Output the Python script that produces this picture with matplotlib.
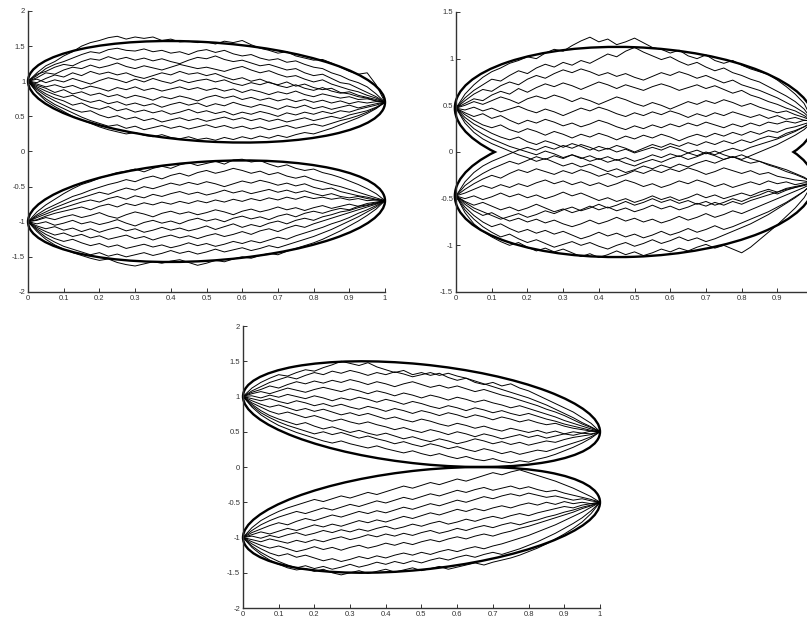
#!/usr/bin/env python3
"""
Brownian-bridge sample paths inside their confidence envelopes, three panels
(two on top, one centred below), MATLAB-style axes.
"""
import matplotlib
matplotlib.use("Agg")
import matplotlib.pyplot as plt
import numpy as np
from matplotlib.patches import Circle
from matplotlib.transforms import Affine2D

# sample times shared by every path
N_STEPS = 41

# envelope of each group: (start value, end value, width factor)
TL_ENVELOPES = [(1.0, 0.7, 1.414), (-1.0, -0.7, 1.414)]
TR_ENVELOPES = [(0.47, 0.33, 1.42), (-0.47, -0.33, 1.42)]
BOT_ENVELOPES = [(1.0, 0.5, 1.414), (-1.0, -0.5, 1.414)]

# y-axis ranges and ticks
TL_YLIM = (-2, 2)
TR_YLIM = (-1.5, 1.5)
BOT_YLIM = (-2, 2)
X_TICKS = [0, 0.1, 0.2, 0.3, 0.4, 0.5, 0.6, 0.7, 0.8, 0.9, 1]
X_TICKLABELS = ["0", "0.1", "0.2", "0.3", "0.4", "0.5", "0.6", "0.7", "0.8", "0.9", "1"]
# right panel is cut at the figure edge, its last tick is not shown
X_TICKS_CUT = [0, 0.1, 0.2, 0.3, 0.4, 0.5, 0.6, 0.7, 0.8, 0.9]
X_TICKLABELS_CUT = ["0", "0.1", "0.2", "0.3", "0.4", "0.5", "0.6", "0.7", "0.8", "0.9"]
Y_TICKS_2 = [-2, -1.5, -1, -0.5, 0, 0.5, 1, 1.5, 2]
Y_TICKLABELS_2 = ["-2", "-1.5", "-1", "-0.5", "0", "0.5", "1", "1.5", "2"]
Y_TICKS_15 = [-1.5, -1, -0.5, 0, 0.5, 1, 1.5]
Y_TICKLABELS_15 = ["-1.5", "-1", "-0.5", "0", "0.5", "1", "1.5"]

# ---- paths, top-left panel ----
TL_UPPER_PATHS = [
    [1.00, 1.12, 1.22, 1.28, 1.36, 1.42, 1.50, 1.55, 1.58, 1.62, 1.64, 1.60, 1.63, 1.61, 1.63, 1.58, 1.60, 1.56, 1.57, 1.55, 1.56, 1.53, 1.57, 1.55, 1.58, 1.52, 1.47, 1.44, 1.40, 1.42, 1.36, 1.33, 1.30, 1.31, 1.26, 1.20, 1.14, 1.10, 1.12, 0.95, 0.70],
    [1.00, 1.08, 1.18, 1.24, 1.28, 1.33, 1.38, 1.42, 1.40, 1.45, 1.47, 1.44, 1.43, 1.46, 1.42, 1.44, 1.40, 1.42, 1.38, 1.43, 1.45, 1.41, 1.44, 1.39, 1.36, 1.38, 1.33, 1.30, 1.32, 1.27, 1.29, 1.24, 1.20, 1.18, 1.12, 1.08, 1.02, 0.98, 0.92, 0.82, 0.70],
    [1.00, 1.10, 1.14, 1.20, 1.24, 1.22, 1.28, 1.32, 1.30, 1.35, 1.31, 1.34, 1.30, 1.33, 1.29, 1.32, 1.28, 1.25, 1.30, 1.34, 1.32, 1.36, 1.31, 1.28, 1.30, 1.26, 1.22, 1.24, 1.20, 1.16, 1.18, 1.12, 1.08, 1.10, 1.04, 0.98, 0.96, 0.90, 0.84, 0.78, 0.70],
    [1.00, 1.05, 1.12, 1.10, 1.16, 1.20, 1.18, 1.23, 1.19, 1.22, 1.26, 1.21, 1.18, 1.22, 1.19, 1.16, 1.20, 1.24, 1.21, 1.18, 1.20, 1.17, 1.14, 1.18, 1.21, 1.16, 1.12, 1.15, 1.10, 1.06, 1.08, 1.03, 0.99, 1.02, 0.96, 0.92, 0.88, 0.85, 0.80, 0.76, 0.70],
    [1.00, 0.98, 1.04, 1.09, 1.06, 1.12, 1.08, 1.14, 1.10, 1.13, 1.09, 1.12, 1.07, 1.04, 1.08, 1.12, 1.09, 1.14, 1.10, 1.12, 1.08, 1.11, 1.06, 1.02, 1.05, 1.00, 1.03, 0.98, 0.95, 0.99, 0.93, 0.96, 0.91, 0.88, 0.90, 0.84, 0.82, 0.78, 0.76, 0.72, 0.70],
    [1.00, 1.03, 0.98, 1.02, 0.99, 1.04, 1.00, 0.96, 1.01, 1.05, 1.02, 0.98, 1.03, 0.99, 1.04, 1.00, 0.97, 1.02, 0.98, 1.01, 1.03, 0.99, 1.02, 0.97, 0.94, 0.98, 0.95, 0.99, 0.94, 0.91, 0.95, 0.90, 0.87, 0.91, 0.86, 0.83, 0.85, 0.80, 0.77, 0.74, 0.70],
    [1.00, 0.96, 0.92, 0.95, 0.91, 0.94, 0.89, 0.93, 0.90, 0.86, 0.91, 0.88, 0.92, 0.87, 0.90, 0.86, 0.89, 0.92, 0.88, 0.91, 0.87, 0.90, 0.86, 0.89, 0.84, 0.88, 0.85, 0.81, 0.85, 0.82, 0.86, 0.81, 0.78, 0.82, 0.79, 0.76, 0.78, 0.74, 0.75, 0.72, 0.70],
    [1.00, 0.94, 0.90, 0.84, 0.88, 0.82, 0.85, 0.80, 0.83, 0.78, 0.81, 0.76, 0.80, 0.77, 0.73, 0.78, 0.75, 0.79, 0.76, 0.72, 0.77, 0.80, 0.76, 0.79, 0.74, 0.77, 0.73, 0.76, 0.72, 0.75, 0.71, 0.74, 0.70, 0.73, 0.69, 0.72, 0.68, 0.71, 0.69, 0.71, 0.70],
    [1.00, 0.92, 0.86, 0.81, 0.77, 0.80, 0.74, 0.70, 0.73, 0.68, 0.71, 0.66, 0.69, 0.65, 0.68, 0.63, 0.67, 0.70, 0.66, 0.69, 0.64, 0.68, 0.65, 0.70, 0.66, 0.63, 0.67, 0.64, 0.60, 0.65, 0.62, 0.66, 0.61, 0.64, 0.60, 0.63, 0.66, 0.62, 0.65, 0.68, 0.70],
    [1.00, 0.90, 0.82, 0.76, 0.72, 0.66, 0.69, 0.63, 0.60, 0.64, 0.58, 0.61, 0.56, 0.59, 0.55, 0.58, 0.53, 0.56, 0.60, 0.55, 0.58, 0.54, 0.57, 0.52, 0.56, 0.53, 0.57, 0.54, 0.50, 0.55, 0.52, 0.56, 0.53, 0.57, 0.54, 0.58, 0.56, 0.60, 0.63, 0.66, 0.70],
    [1.00, 0.88, 0.79, 0.72, 0.66, 0.60, 0.56, 0.58, 0.52, 0.48, 0.51, 0.46, 0.49, 0.44, 0.47, 0.42, 0.45, 0.48, 0.44, 0.47, 0.43, 0.46, 0.49, 0.45, 0.48, 0.44, 0.47, 0.43, 0.46, 0.42, 0.45, 0.48, 0.44, 0.47, 0.50, 0.47, 0.52, 0.55, 0.58, 0.63, 0.70],
    [1.00, 0.85, 0.75, 0.67, 0.61, 0.55, 0.49, 0.44, 0.40, 0.36, 0.38, 0.33, 0.36, 0.31, 0.34, 0.37, 0.33, 0.36, 0.32, 0.35, 0.38, 0.34, 0.37, 0.33, 0.36, 0.32, 0.35, 0.31, 0.34, 0.37, 0.33, 0.36, 0.39, 0.36, 0.40, 0.44, 0.47, 0.51, 0.56, 0.62, 0.70],
    [1.00, 0.84, 0.72, 0.64, 0.57, 0.50, 0.45, 0.40, 0.35, 0.31, 0.28, 0.25, 0.27, 0.23, 0.21, 0.24, 0.20, 0.18, 0.21, 0.17, 0.19, 0.16, 0.20, 0.17, 0.21, 0.18, 0.22, 0.19, 0.23, 0.20, 0.24, 0.27, 0.25, 0.29, 0.33, 0.38, 0.43, 0.48, 0.54, 0.61, 0.70],
]
TL_LOWER_PATHS = [
    [-1.00, -0.86, -0.76, -0.68, -0.60, -0.53, -0.47, -0.43, -0.38, -0.34, -0.30, -0.28, -0.25, -0.29, -0.24, -0.21, -0.24, -0.19, -0.16, -0.20, -0.17, -0.14, -0.18, -0.12, -0.11, -0.15, -0.13, -0.18, -0.22, -0.19, -0.24, -0.27, -0.25, -0.30, -0.33, -0.37, -0.42, -0.47, -0.53, -0.60, -0.70],
    [-1.00, -0.90, -0.82, -0.76, -0.70, -0.64, -0.60, -0.55, -0.51, -0.47, -0.44, -0.40, -0.43, -0.38, -0.35, -0.39, -0.34, -0.31, -0.35, -0.30, -0.27, -0.31, -0.28, -0.24, -0.27, -0.31, -0.28, -0.33, -0.30, -0.35, -0.38, -0.35, -0.40, -0.43, -0.47, -0.50, -0.54, -0.58, -0.62, -0.66, -0.70],
    [-1.00, -0.92, -0.86, -0.80, -0.75, -0.70, -0.66, -0.62, -0.58, -0.61, -0.56, -0.52, -0.55, -0.50, -0.53, -0.49, -0.45, -0.48, -0.44, -0.47, -0.43, -0.46, -0.50, -0.46, -0.42, -0.45, -0.41, -0.44, -0.48, -0.45, -0.49, -0.46, -0.51, -0.54, -0.52, -0.57, -0.60, -0.63, -0.65, -0.68, -0.70],
    [-1.00, -0.94, -0.89, -0.84, -0.80, -0.76, -0.72, -0.69, -0.72, -0.67, -0.64, -0.68, -0.63, -0.66, -0.61, -0.64, -0.60, -0.57, -0.61, -0.58, -0.62, -0.59, -0.55, -0.59, -0.56, -0.60, -0.57, -0.54, -0.58, -0.55, -0.59, -0.56, -0.60, -0.63, -0.60, -0.64, -0.66, -0.64, -0.67, -0.69, -0.70],
    [-1.00, -0.97, -0.92, -0.88, -0.85, -0.82, -0.79, -0.83, -0.78, -0.75, -0.79, -0.74, -0.77, -0.73, -0.76, -0.72, -0.75, -0.71, -0.74, -0.70, -0.73, -0.69, -0.72, -0.68, -0.71, -0.67, -0.70, -0.66, -0.69, -0.65, -0.68, -0.64, -0.67, -0.65, -0.68, -0.66, -0.69, -0.67, -0.70, -0.69, -0.70],
    [-1.00, -0.98, -0.94, -0.97, -0.93, -0.90, -0.94, -0.91, -0.87, -0.92, -0.95, -0.90, -0.86, -0.89, -0.93, -0.88, -0.85, -0.89, -0.86, -0.90, -0.87, -0.83, -0.86, -0.90, -0.85, -0.82, -0.86, -0.83, -0.79, -0.83, -0.80, -0.84, -0.80, -0.77, -0.81, -0.78, -0.75, -0.78, -0.74, -0.72, -0.70],
    [-1.00, -1.03, -1.00, -1.05, -1.02, -0.98, -1.03, -1.00, -1.04, -1.01, -0.97, -1.02, -1.06, -1.01, -0.98, -1.02, -0.99, -1.03, -0.98, -0.95, -0.99, -0.96, -1.00, -0.95, -0.92, -0.96, -0.93, -0.97, -0.92, -0.89, -0.93, -0.88, -0.85, -0.88, -0.84, -0.81, -0.83, -0.78, -0.76, -0.73, -0.70],
    [-1.00, -1.06, -1.10, -1.07, -1.12, -1.09, -1.14, -1.10, -1.15, -1.11, -1.08, -1.13, -1.10, -1.15, -1.12, -1.08, -1.12, -1.09, -1.13, -1.10, -1.06, -1.11, -1.07, -1.03, -1.08, -1.04, -1.07, -1.02, -0.99, -1.03, -0.98, -0.95, -0.98, -0.93, -0.90, -0.86, -0.84, -0.80, -0.77, -0.74, -0.70],
    [-1.00, -1.08, -1.14, -1.19, -1.16, -1.21, -1.18, -1.23, -1.20, -1.25, -1.22, -1.19, -1.24, -1.21, -1.26, -1.22, -1.19, -1.23, -1.20, -1.24, -1.20, -1.17, -1.21, -1.18, -1.14, -1.18, -1.13, -1.10, -1.14, -1.09, -1.05, -1.08, -1.03, -0.99, -0.95, -0.91, -0.87, -0.83, -0.79, -0.75, -0.70],
    [-1.00, -1.10, -1.18, -1.24, -1.28, -1.25, -1.30, -1.34, -1.31, -1.36, -1.33, -1.38, -1.35, -1.32, -1.36, -1.33, -1.37, -1.34, -1.30, -1.34, -1.31, -1.35, -1.32, -1.28, -1.31, -1.27, -1.30, -1.26, -1.22, -1.25, -1.20, -1.16, -1.12, -1.08, -1.03, -0.99, -0.94, -0.88, -0.83, -0.77, -0.70],
    [-1.00, -1.12, -1.22, -1.29, -1.35, -1.39, -1.43, -1.47, -1.44, -1.49, -1.46, -1.50, -1.47, -1.44, -1.48, -1.45, -1.41, -1.45, -1.42, -1.46, -1.43, -1.39, -1.43, -1.40, -1.37, -1.41, -1.38, -1.34, -1.37, -1.33, -1.29, -1.25, -1.21, -1.16, -1.11, -1.05, -0.99, -0.93, -0.86, -0.79, -0.70],
    [-1.00, -1.14, -1.25, -1.33, -1.39, -1.44, -1.48, -1.52, -1.55, -1.53, -1.58, -1.61, -1.63, -1.60, -1.57, -1.59, -1.56, -1.54, -1.58, -1.62, -1.59, -1.55, -1.57, -1.53, -1.50, -1.52, -1.48, -1.45, -1.47, -1.42, -1.38, -1.34, -1.30, -1.25, -1.19, -1.13, -1.06, -0.99, -0.91, -0.82, -0.70],
]

# ---- paths, top-right panel ----
TR_UPPER_PATHS = [
    [0.47, 0.62, 0.72, 0.80, 0.86, 0.90, 0.95, 0.98, 1.02, 1.00, 1.06, 1.10, 1.08, 1.14, 1.19, 1.23, 1.18, 1.21, 1.15, 1.18, 1.22, 1.17, 1.12, 1.10, 1.06, 1.09, 1.03, 1.00, 1.04, 0.98, 0.95, 0.98, 0.93, 0.89, 0.86, 0.83, 0.77, 0.70, 0.62, 0.52, 0.33],
    [0.47, 0.58, 0.66, 0.72, 0.78, 0.76, 0.82, 0.87, 0.84, 0.90, 0.94, 0.91, 0.96, 0.93, 0.98, 0.95, 1.00, 1.05, 1.02, 1.08, 1.12, 1.07, 1.03, 0.99, 1.02, 0.97, 0.93, 0.96, 0.91, 0.87, 0.90, 0.85, 0.82, 0.78, 0.75, 0.70, 0.65, 0.60, 0.54, 0.46, 0.33],
    [0.47, 0.55, 0.62, 0.67, 0.65, 0.71, 0.75, 0.72, 0.78, 0.82, 0.79, 0.84, 0.88, 0.85, 0.89, 0.86, 0.82, 0.85, 0.81, 0.84, 0.80, 0.77, 0.81, 0.85, 0.82, 0.86, 0.83, 0.79, 0.82, 0.78, 0.74, 0.77, 0.72, 0.69, 0.66, 0.62, 0.58, 0.53, 0.48, 0.42, 0.33],
    [0.47, 0.52, 0.57, 0.55, 0.61, 0.65, 0.62, 0.68, 0.64, 0.69, 0.73, 0.70, 0.74, 0.71, 0.67, 0.71, 0.75, 0.72, 0.68, 0.72, 0.69, 0.66, 0.70, 0.73, 0.70, 0.66, 0.69, 0.72, 0.68, 0.71, 0.67, 0.63, 0.66, 0.61, 0.58, 0.54, 0.51, 0.47, 0.44, 0.39, 0.33],
    [0.47, 0.50, 0.54, 0.51, 0.55, 0.59, 0.56, 0.52, 0.57, 0.60, 0.57, 0.61, 0.58, 0.54, 0.58, 0.55, 0.51, 0.55, 0.59, 0.56, 0.52, 0.49, 0.53, 0.50, 0.46, 0.50, 0.54, 0.51, 0.55, 0.52, 0.56, 0.53, 0.49, 0.52, 0.48, 0.45, 0.42, 0.44, 0.40, 0.37, 0.33],
    [0.47, 0.45, 0.48, 0.44, 0.47, 0.43, 0.46, 0.49, 0.45, 0.42, 0.46, 0.43, 0.39, 0.43, 0.47, 0.44, 0.48, 0.45, 0.41, 0.38, 0.42, 0.39, 0.43, 0.40, 0.44, 0.41, 0.37, 0.41, 0.38, 0.42, 0.39, 0.43, 0.40, 0.37, 0.40, 0.36, 0.39, 0.35, 0.37, 0.34, 0.33],
    [0.47, 0.42, 0.38, 0.41, 0.36, 0.39, 0.34, 0.30, 0.34, 0.31, 0.35, 0.32, 0.28, 0.31, 0.27, 0.30, 0.34, 0.31, 0.27, 0.24, 0.28, 0.25, 0.29, 0.26, 0.30, 0.27, 0.31, 0.28, 0.32, 0.29, 0.26, 0.30, 0.27, 0.31, 0.28, 0.32, 0.30, 0.33, 0.31, 0.34, 0.33],
    [0.47, 0.40, 0.34, 0.29, 0.26, 0.29, 0.24, 0.21, 0.25, 0.22, 0.18, 0.22, 0.19, 0.15, 0.19, 0.16, 0.20, 0.17, 0.13, 0.17, 0.14, 0.18, 0.15, 0.19, 0.16, 0.12, 0.16, 0.19, 0.16, 0.20, 0.17, 0.21, 0.18, 0.22, 0.19, 0.23, 0.21, 0.25, 0.27, 0.30, 0.33],
    [0.47, 0.37, 0.30, 0.25, 0.20, 0.16, 0.13, 0.16, 0.11, 0.08, 0.12, 0.09, 0.05, 0.09, 0.06, 0.02, 0.06, 0.03, 0.07, 0.04, 0.00, 0.04, 0.08, 0.05, 0.09, 0.06, 0.10, 0.07, 0.11, 0.08, 0.12, 0.09, 0.13, 0.10, 0.14, 0.17, 0.15, 0.20, 0.23, 0.27, 0.33],
    [0.47, 0.34, 0.25, 0.19, 0.14, 0.10, 0.06, 0.03, 0.00, -0.03, 0.01, -0.02, -0.06, -0.03, -0.07, -0.04, -0.08, -0.05, -0.09, -0.06, -0.10, -0.07, -0.03, -0.06, -0.02, -0.05, -0.01, -0.04, 0.00, -0.03, 0.01, 0.04, 0.01, 0.05, 0.08, 0.11, 0.14, 0.18, 0.22, 0.27, 0.33],
    [0.47, 0.31, 0.21, 0.14, 0.09, 0.05, 0.01, -0.03, -0.06, -0.10, -0.07, -0.11, -0.15, -0.12, -0.16, -0.13, -0.17, -0.21, -0.18, -0.22, -0.19, -0.15, -0.18, -0.14, -0.17, -0.13, -0.16, -0.12, -0.09, -0.12, -0.08, -0.05, -0.08, -0.04, 0.00, 0.04, 0.08, 0.13, 0.18, 0.24, 0.33],
]
TR_LOWER_PATHS = [
    [-0.47, -0.32, -0.22, -0.15, -0.10, -0.06, -0.02, 0.02, 0.05, 0.02, 0.06, 0.03, 0.07, 0.04, 0.08, 0.05, 0.01, 0.04, 0.00, 0.03, -0.01, 0.02, 0.05, 0.02, 0.06, 0.03, -0.01, 0.02, -0.02, 0.01, -0.03, -0.06, -0.03, -0.07, -0.10, -0.13, -0.16, -0.19, -0.23, -0.27, -0.33],
    [-0.47, -0.36, -0.29, -0.23, -0.18, -0.14, -0.10, -0.13, -0.09, -0.05, -0.08, -0.04, -0.07, -0.03, -0.06, -0.10, -0.07, -0.11, -0.08, -0.12, -0.15, -0.11, -0.08, -0.11, -0.07, -0.04, -0.08, -0.05, -0.01, -0.04, -0.08, -0.05, -0.09, -0.12, -0.10, -0.14, -0.17, -0.21, -0.24, -0.28, -0.33],
    [-0.47, -0.40, -0.34, -0.29, -0.25, -0.28, -0.23, -0.19, -0.22, -0.18, -0.21, -0.24, -0.20, -0.23, -0.19, -0.22, -0.26, -0.23, -0.27, -0.24, -0.20, -0.23, -0.19, -0.22, -0.18, -0.21, -0.17, -0.20, -0.24, -0.21, -0.17, -0.20, -0.23, -0.20, -0.24, -0.22, -0.26, -0.28, -0.30, -0.31, -0.33],
    [-0.47, -0.44, -0.40, -0.36, -0.39, -0.35, -0.38, -0.34, -0.37, -0.33, -0.30, -0.34, -0.31, -0.35, -0.32, -0.36, -0.33, -0.37, -0.34, -0.30, -0.33, -0.37, -0.34, -0.38, -0.35, -0.31, -0.34, -0.30, -0.33, -0.37, -0.34, -0.38, -0.35, -0.32, -0.35, -0.31, -0.34, -0.32, -0.35, -0.33, -0.33],
    [-0.47, -0.50, -0.47, -0.51, -0.48, -0.44, -0.48, -0.45, -0.49, -0.46, -0.50, -0.47, -0.43, -0.47, -0.44, -0.48, -0.52, -0.49, -0.53, -0.50, -0.54, -0.51, -0.47, -0.51, -0.48, -0.52, -0.49, -0.45, -0.49, -0.46, -0.50, -0.47, -0.44, -0.47, -0.43, -0.40, -0.43, -0.39, -0.37, -0.35, -0.33],
    [-0.47, -0.54, -0.60, -0.64, -0.68, -0.72, -0.69, -0.66, -0.70, -0.67, -0.63, -0.66, -0.62, -0.59, -0.63, -0.60, -0.56, -0.60, -0.57, -0.53, -0.57, -0.54, -0.50, -0.54, -0.51, -0.55, -0.52, -0.56, -0.53, -0.57, -0.54, -0.50, -0.53, -0.49, -0.46, -0.42, -0.45, -0.41, -0.38, -0.36, -0.33],
    [-0.47, -0.53, -0.57, -0.54, -0.58, -0.62, -0.59, -0.63, -0.60, -0.56, -0.60, -0.64, -0.61, -0.65, -0.62, -0.58, -0.62, -0.59, -0.63, -0.60, -0.64, -0.61, -0.57, -0.61, -0.58, -0.62, -0.59, -0.55, -0.58, -0.54, -0.57, -0.53, -0.56, -0.52, -0.49, -0.46, -0.43, -0.40, -0.38, -0.35, -0.33],
    [-0.47, -0.56, -0.63, -0.68, -0.65, -0.70, -0.74, -0.71, -0.75, -0.72, -0.76, -0.73, -0.77, -0.80, -0.77, -0.73, -0.77, -0.74, -0.70, -0.74, -0.71, -0.75, -0.72, -0.76, -0.73, -0.69, -0.73, -0.70, -0.66, -0.70, -0.67, -0.63, -0.66, -0.62, -0.58, -0.54, -0.50, -0.46, -0.42, -0.38, -0.33],
    [-0.47, -0.59, -0.68, -0.75, -0.80, -0.77, -0.82, -0.86, -0.83, -0.87, -0.84, -0.88, -0.85, -0.89, -0.93, -0.90, -0.86, -0.90, -0.87, -0.91, -0.88, -0.92, -0.89, -0.85, -0.89, -0.86, -0.82, -0.86, -0.83, -0.79, -0.83, -0.80, -0.76, -0.72, -0.68, -0.64, -0.59, -0.54, -0.48, -0.42, -0.33],
    [-0.47, -0.62, -0.72, -0.80, -0.86, -0.91, -0.88, -0.93, -0.97, -0.94, -0.98, -1.02, -0.99, -0.96, -1.00, -0.97, -1.01, -1.04, -1.00, -0.97, -1.01, -0.98, -0.94, -0.98, -0.95, -0.91, -0.95, -0.92, -0.96, -0.93, -0.89, -0.85, -0.81, -0.77, -0.72, -0.67, -0.61, -0.55, -0.49, -0.42, -0.33],
    [-0.47, -0.65, -0.77, -0.85, -0.91, -0.96, -1.00, -0.97, -1.02, -1.06, -1.03, -1.07, -1.04, -1.08, -1.12, -1.09, -1.13, -1.10, -1.06, -1.10, -1.07, -1.11, -1.08, -1.04, -1.07, -1.03, -1.06, -1.02, -0.99, -1.03, -1.00, -1.04, -1.08, -1.02, -0.94, -0.86, -0.78, -0.69, -0.60, -0.49, -0.33],
]

# ---- paths, bottom panel ----
BOT_UPPER_PATHS = [
    [1.00, 1.12, 1.20, 1.26, 1.31, 1.29, 1.34, 1.38, 1.36, 1.41, 1.45, 1.50, 1.47, 1.44, 1.48, 1.42, 1.38, 1.34, 1.37, 1.31, 1.34, 1.30, 1.33, 1.27, 1.23, 1.26, 1.20, 1.17, 1.20, 1.15, 1.18, 1.12, 1.08, 1.02, 0.96, 0.90, 0.84, 0.78, 0.70, 0.62, 0.50],
    [1.00, 1.08, 1.14, 1.20, 1.24, 1.28, 1.25, 1.30, 1.34, 1.31, 1.36, 1.33, 1.37, 1.34, 1.30, 1.34, 1.31, 1.35, 1.32, 1.28, 1.31, 1.34, 1.30, 1.33, 1.29, 1.26, 1.22, 1.18, 1.14, 1.10, 1.06, 1.02, 0.98, 0.93, 0.88, 0.82, 0.76, 0.70, 0.63, 0.57, 0.50],
    [1.00, 1.06, 1.10, 1.15, 1.12, 1.17, 1.21, 1.18, 1.22, 1.19, 1.23, 1.20, 1.24, 1.21, 1.17, 1.21, 1.18, 1.14, 1.18, 1.21, 1.17, 1.13, 1.16, 1.12, 1.15, 1.11, 1.07, 1.10, 1.06, 1.02, 0.99, 0.95, 0.91, 0.87, 0.82, 0.78, 0.73, 0.67, 0.61, 0.56, 0.50],
    [1.00, 1.04, 1.07, 1.04, 1.08, 1.12, 1.09, 1.06, 1.10, 1.13, 1.10, 1.07, 1.11, 1.08, 1.04, 1.08, 1.05, 1.01, 1.05, 1.02, 0.98, 1.02, 0.99, 0.95, 0.99, 0.96, 0.92, 0.95, 0.91, 0.88, 0.84, 0.87, 0.83, 0.79, 0.75, 0.71, 0.66, 0.62, 0.58, 0.54, 0.50],
    [1.00, 1.01, 0.98, 1.02, 0.99, 1.03, 1.00, 0.97, 1.01, 0.98, 0.94, 0.98, 0.95, 0.99, 0.96, 0.92, 0.96, 0.93, 0.89, 0.93, 0.90, 0.86, 0.83, 0.87, 0.84, 0.80, 0.84, 0.81, 0.77, 0.80, 0.76, 0.73, 0.76, 0.72, 0.68, 0.65, 0.61, 0.58, 0.55, 0.52, 0.50],
    [1.00, 0.97, 0.94, 0.97, 0.93, 0.90, 0.94, 0.91, 0.87, 0.90, 0.86, 0.89, 0.85, 0.82, 0.86, 0.83, 0.79, 0.83, 0.80, 0.76, 0.80, 0.77, 0.73, 0.77, 0.74, 0.70, 0.74, 0.71, 0.67, 0.71, 0.68, 0.64, 0.67, 0.63, 0.60, 0.62, 0.58, 0.55, 0.53, 0.51, 0.50],
    [1.00, 0.94, 0.89, 0.85, 0.88, 0.84, 0.80, 0.83, 0.79, 0.82, 0.78, 0.74, 0.77, 0.73, 0.76, 0.72, 0.68, 0.71, 0.67, 0.64, 0.68, 0.65, 0.61, 0.58, 0.62, 0.59, 0.55, 0.58, 0.54, 0.51, 0.55, 0.52, 0.49, 0.52, 0.48, 0.51, 0.47, 0.50, 0.48, 0.51, 0.50],
    [1.00, 0.91, 0.85, 0.79, 0.75, 0.78, 0.74, 0.70, 0.73, 0.69, 0.65, 0.68, 0.64, 0.61, 0.64, 0.60, 0.57, 0.53, 0.56, 0.52, 0.49, 0.53, 0.50, 0.46, 0.50, 0.47, 0.43, 0.47, 0.44, 0.40, 0.43, 0.46, 0.42, 0.45, 0.41, 0.44, 0.47, 0.45, 0.48, 0.47, 0.50],
    [1.00, 0.89, 0.80, 0.73, 0.68, 0.64, 0.60, 0.63, 0.58, 0.54, 0.57, 0.53, 0.49, 0.52, 0.48, 0.45, 0.48, 0.44, 0.40, 0.43, 0.39, 0.36, 0.40, 0.37, 0.33, 0.36, 0.40, 0.37, 0.33, 0.36, 0.32, 0.35, 0.31, 0.34, 0.37, 0.35, 0.39, 0.42, 0.44, 0.46, 0.50],
    [1.00, 0.87, 0.77, 0.70, 0.64, 0.59, 0.55, 0.51, 0.47, 0.50, 0.46, 0.49, 0.45, 0.41, 0.44, 0.40, 0.37, 0.33, 0.36, 0.32, 0.29, 0.33, 0.30, 0.26, 0.29, 0.25, 0.22, 0.26, 0.23, 0.19, 0.22, 0.18, 0.21, 0.24, 0.22, 0.26, 0.30, 0.34, 0.38, 0.43, 0.50],
    [1.00, 0.85, 0.74, 0.66, 0.59, 0.54, 0.49, 0.45, 0.41, 0.37, 0.34, 0.37, 0.33, 0.30, 0.27, 0.30, 0.26, 0.23, 0.20, 0.23, 0.19, 0.16, 0.19, 0.15, 0.12, 0.15, 0.11, 0.09, 0.12, 0.08, 0.06, 0.09, 0.07, 0.11, 0.14, 0.18, 0.23, 0.28, 0.34, 0.41, 0.50],
]
BOT_LOWER_PATHS = [
    [-1.00, -0.86, -0.76, -0.69, -0.63, -0.58, -0.54, -0.50, -0.46, -0.49, -0.45, -0.41, -0.44, -0.40, -0.36, -0.39, -0.35, -0.31, -0.27, -0.30, -0.26, -0.22, -0.25, -0.21, -0.17, -0.20, -0.16, -0.12, -0.08, -0.11, -0.07, -0.04, -0.08, -0.12, -0.16, -0.20, -0.25, -0.30, -0.36, -0.42, -0.50],
    [-1.00, -0.90, -0.82, -0.76, -0.71, -0.67, -0.63, -0.66, -0.62, -0.58, -0.61, -0.57, -0.53, -0.56, -0.52, -0.48, -0.51, -0.47, -0.43, -0.46, -0.42, -0.38, -0.41, -0.37, -0.33, -0.36, -0.32, -0.29, -0.33, -0.30, -0.27, -0.31, -0.28, -0.32, -0.35, -0.33, -0.37, -0.40, -0.43, -0.46, -0.50],
    [-1.00, -0.93, -0.88, -0.83, -0.79, -0.82, -0.77, -0.73, -0.76, -0.72, -0.68, -0.71, -0.67, -0.63, -0.66, -0.62, -0.65, -0.61, -0.57, -0.60, -0.56, -0.52, -0.55, -0.51, -0.47, -0.50, -0.46, -0.42, -0.45, -0.41, -0.38, -0.41, -0.37, -0.40, -0.43, -0.41, -0.44, -0.47, -0.45, -0.48, -0.50],
    [-1.00, -0.96, -0.92, -0.95, -0.91, -0.87, -0.90, -0.86, -0.82, -0.85, -0.81, -0.84, -0.80, -0.76, -0.79, -0.75, -0.78, -0.74, -0.70, -0.73, -0.69, -0.65, -0.68, -0.64, -0.60, -0.63, -0.59, -0.62, -0.58, -0.55, -0.58, -0.54, -0.51, -0.54, -0.50, -0.53, -0.49, -0.52, -0.50, -0.52, -0.50],
    [-1.00, -0.98, -1.01, -0.97, -1.00, -0.96, -0.93, -0.97, -0.94, -0.90, -0.93, -0.89, -0.92, -0.88, -0.91, -0.87, -0.84, -0.88, -0.85, -0.81, -0.84, -0.80, -0.77, -0.81, -0.78, -0.74, -0.77, -0.73, -0.70, -0.73, -0.69, -0.66, -0.69, -0.65, -0.62, -0.59, -0.56, -0.58, -0.54, -0.52, -0.50],
    [-1.00, -1.03, -1.06, -1.02, -1.05, -1.08, -1.04, -1.07, -1.03, -1.06, -1.02, -0.99, -1.03, -1.00, -0.96, -0.99, -0.95, -0.98, -0.94, -0.97, -0.93, -0.90, -0.94, -0.91, -0.87, -0.90, -0.86, -0.83, -0.86, -0.82, -0.79, -0.82, -0.78, -0.75, -0.71, -0.68, -0.64, -0.61, -0.57, -0.54, -0.50],
    [-1.00, -1.06, -1.11, -1.15, -1.12, -1.16, -1.20, -1.17, -1.13, -1.17, -1.14, -1.18, -1.14, -1.11, -1.15, -1.12, -1.08, -1.11, -1.07, -1.10, -1.06, -1.03, -1.06, -1.02, -0.99, -1.02, -0.98, -0.95, -0.98, -0.94, -0.91, -0.87, -0.84, -0.80, -0.76, -0.72, -0.68, -0.64, -0.59, -0.55, -0.50],
    [-1.00, -1.09, -1.16, -1.22, -1.26, -1.23, -1.28, -1.25, -1.29, -1.33, -1.30, -1.34, -1.31, -1.27, -1.30, -1.26, -1.29, -1.25, -1.22, -1.25, -1.21, -1.24, -1.20, -1.17, -1.20, -1.16, -1.13, -1.16, -1.12, -1.09, -1.05, -1.01, -0.97, -0.92, -0.87, -0.82, -0.76, -0.70, -0.64, -0.57, -0.50],
    [-1.00, -1.12, -1.21, -1.28, -1.34, -1.39, -1.43, -1.40, -1.44, -1.41, -1.45, -1.42, -1.38, -1.42, -1.39, -1.35, -1.38, -1.34, -1.37, -1.33, -1.36, -1.32, -1.29, -1.32, -1.28, -1.25, -1.28, -1.24, -1.21, -1.24, -1.20, -1.16, -1.11, -1.06, -1.00, -0.94, -0.87, -0.80, -0.72, -0.62, -0.50],
    [-1.00, -1.14, -1.24, -1.32, -1.38, -1.43, -1.46, -1.44, -1.48, -1.45, -1.50, -1.53, -1.50, -1.47, -1.51, -1.48, -1.45, -1.49, -1.46, -1.43, -1.47, -1.44, -1.41, -1.45, -1.42, -1.39, -1.36, -1.39, -1.35, -1.32, -1.29, -1.25, -1.20, -1.15, -1.09, -1.02, -0.95, -0.87, -0.78, -0.66, -0.50],
]

plt.rcParams["font.family"] = ["Liberation Sans", "DejaVu Sans"]
plt.rcParams["axes.unicode_minus"] = False


def envelope_transform(ax, start, end, width):
    # unit circle -> region start+(end-start)t +/- width*sqrt(t(1-t)), t in [0,1]
    m = np.array([[0.5, 0.0, 0.5],
                  [(end - start) / 2, width / 2, (start + end) / 2],
                  [0.0, 0.0, 1.0]])
    return Affine2D(m) + ax.transData


def draw_panel(ax, envelopes, groups, ylim, yticks, yticklabels,
               xticks=X_TICKS, xticklabels=X_TICKLABELS, merged=False):
    t = np.linspace(0, 1, N_STEPS)
    if merged:
        # overlapping envelopes: only the outer boundary of the union is drawn.
        # thick outline first, then white fills hide the arcs inside the other one
        for start, end, width in envelopes:
            ax.add_patch(Circle((0, 0), 1, transform=envelope_transform(ax, start, end, width),
                                fill=False, edgecolor="black", linewidth=3.4,
                                zorder=1, clip_on=False))
        for start, end, width in envelopes:
            ax.add_patch(Circle((0, 0), 1, transform=envelope_transform(ax, start, end, width),
                                facecolor="white", edgecolor="none", zorder=1.5,
                                clip_on=False))
    else:
        for start, end, width in envelopes:
            ax.add_patch(Circle((0, 0), 1, transform=envelope_transform(ax, start, end, width),
                                fill=False, edgecolor="black", linewidth=1.7,
                                zorder=1, clip_on=False))
    for paths in groups:
        for ys in paths:
            ax.plot(t, ys, color="black", linewidth=0.7, zorder=3, clip_on=False)

    ax.set_xlim(0, 1)
    ax.set_ylim(*ylim)
    ax.set_xticks(xticks)
    ax.set_xticklabels(xticklabels)
    ax.set_yticks(yticks)
    ax.set_yticklabels(yticklabels)
    for side in ("top", "right"):
        ax.spines[side].set_visible(False)
    for side in ("left", "bottom"):
        ax.spines[side].set_color("#333333")
        ax.spines[side].set_linewidth(1.0)
        ax.spines[side].set_zorder(4)
    ax.tick_params(direction="in", length=3, width=0.7, labelsize=5.5,
                   colors="#333333", pad=2)


fig = plt.figure(figsize=(8.07, 6.21), dpi=100)
ax_tl = fig.add_axes([0.0347, 0.5298, 0.4424, 0.4525])
ax_tr = fig.add_axes([0.5651, 0.5298, 0.4424, 0.4509])
ax_bot = fig.add_axes([0.3011, 0.0209, 0.4424, 0.4541])

draw_panel(ax_tl, TL_ENVELOPES, [TL_UPPER_PATHS, TL_LOWER_PATHS],
           TL_YLIM, Y_TICKS_2, Y_TICKLABELS_2)
draw_panel(ax_tr, TR_ENVELOPES, [TR_UPPER_PATHS, TR_LOWER_PATHS],
           TR_YLIM, Y_TICKS_15, Y_TICKLABELS_15,
           xticks=X_TICKS_CUT, xticklabels=X_TICKLABELS_CUT, merged=True)
draw_panel(ax_bot, BOT_ENVELOPES, [BOT_UPPER_PATHS, BOT_LOWER_PATHS],
           BOT_YLIM, Y_TICKS_2, Y_TICKLABELS_2)

fig.savefig("out.png", dpi=100)
